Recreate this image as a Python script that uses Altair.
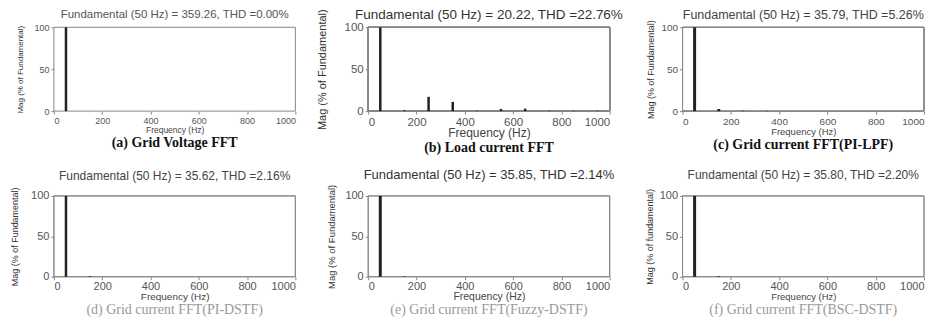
import altair as alt
import pandas as pd

# ---- data ----
freqs_a = [50]
mags_a = [100]
freqs_b = [50, 150, 250, 350, 450, 550, 650, 750, 850, 950]
mags_b = [100, 1.0, 17, 11, 0.5, 2.5, 3.0, 0.5, 0.4, 0.5]
freqs_c = [50, 150, 250, 350]
mags_c = [100, 2.5, 0.5, 0.3]
freqs_d = [50, 150]
mags_d = [100, 0.8]
freqs_e = [50, 150]
mags_e = [100, 0.6]
freqs_f = [50, 150]
mags_f = [100, 0.8]

titles = [
    "Fundamental  (50 Hz) = 359.26,  THD =0.00%",
    "Fundamental  (50 Hz) = 20.22, THD =22.76%",
    "Fundamental (50 Hz) = 35.79, THD =5.26%",
    "Fundamental  (50 Hz) = 35.62, THD =2.16%",
    "Fundamental (50 Hz) = 35.85, THD =2.14%",
    "Fundamental  (50 Hz) = 35.80, THD =2.20%",
]
captions = [
    "(a) Grid Voltage FFT",
    "(b) Load current FFT",
    "(c) Grid current FFT(PI-LPF)",
    "(d) Grid current FFT(PI-DSTF)",
    "(e) Grid current FFT(Fuzzy-DSTF)",
    "(f) Grid current FFT(BSC-DSTF)",
]
ylabels = [
    "Mag (% of Fundamental)",
    "Mag (% of Fundamental)",
    "Mag (% of Fundamental)",
    "Mag (% of Fundamental)",
    "Mag (% of Fundamental)",
    "Mag (% of fundamental)",
]
xlabel = "Frequency  (Hz)"
x_ticks = [0, 200, 400, 600, 800, 1000]
y_ticks = [0, 50, 100]

series = [
    (freqs_a, mags_a), (freqs_b, mags_b), (freqs_c, mags_c),
    (freqs_d, mags_d), (freqs_e, mags_e), (freqs_f, mags_f),
]

# ---- styling per panel ----
W = 242
H_TOP, H_BOT = 84, 81
styles = [
    dict(h=H_TOP, tfs=11.5, tcol="#555", tdy=-12, lfs=9, yfs=8, xtfs=8.5, ytx=-33, cap_bold=True, cap_col="#111", cap_fs=14, bw=2.5, cap_off=2, lp=2),
    dict(h=H_TOP, tfs=13.5, tcol="#333", tdy=-12, lfs=11.5, yfs=11, xtfs=12, ytx=-46, cap_bold=True, cap_col="#111", cap_fs=14, bw=2.5, cap_off=2, lp=2),
    dict(h=H_TOP, tfs=12.5, tcol="#444", tdy=-12, lfs=10, yfs=9, xtfs=9.5, ytx=-32, cap_bold=True, cap_col="#111", cap_fs=14, bw=3, cap_off=2, lp=2),
    dict(h=H_BOT, tfs=12, tcol="#444", tdy=-20, lfs=11, yfs=9, xtfs=10, ytx=-39, cap_bold=False, cap_col="#999", cap_fs=14, bw=2.5, cap_off=1, lp=1),
    dict(h=H_BOT, tfs=13, tcol="#333", tdy=-21, lfs=11, yfs=9.5, xtfs=10.5, ytx=-37, cap_bold=False, cap_col="#999", cap_fs=14, bw=3, cap_off=1, lp=1),
    dict(h=H_BOT, tfs=12, tcol="#444", tdy=-21, lfs=11, yfs=9, xtfs=9.5, ytx=-33, cap_bold=False, cap_col="#999", cap_fs=14, bw=3, cap_off=2, lp=1),
]


def panel(i):
    fr, mg = series[i]
    st = styles[i]
    df = pd.DataFrame({"f": fr, "m": mg})
    bars = alt.Chart(df).mark_rule(color="#222", strokeWidth=st["bw"]).encode(
        x=alt.X("f:Q", scale=alt.Scale(domain=[0, 1000], nice=False),
                axis=alt.Axis(values=x_ticks, format="d", title=xlabel, grid=False,
                              labelFontSize=st["lfs"], labelColor="#555",
                              titleFontSize=st["xtfs"], titleColor="#444",
                              titleFontWeight="normal", titlePadding=0,
                              tickSize=3, tickColor="#888", domain=False,
                              labelPadding=st["lp"], labelFont="Liberation Sans",
                              titleFont="Liberation Sans")),
        y=alt.Y("m:Q", scale=alt.Scale(domain=[0, 100], nice=False),
                axis=alt.Axis(values=y_ticks, format="d", title=ylabels[i], grid=False,
                              labelFontSize=st["lfs"], labelColor="#555",
                              titleFontSize=st["yfs"], titleColor="#333",
                              titleFontWeight="normal", titleX=st["ytx"],
                              titleY=st["h"] / 2, titleBaseline="middle",
                              titleAlign="center", tickSize=3, tickColor="#888",
                              domain=False, labelPadding=2,
                              labelFont="Liberation Sans",
                              titleFont="Liberation Sans")),
        y2=alt.datum(0),
    )
    frame = alt.Chart(df).mark_rect(
        fill=None, stroke="#888", strokeWidth=1
    ).encode(
        x=alt.value(0), x2=alt.value(W), y=alt.value(0), y2=alt.value(st["h"])
    )
    tdf = pd.DataFrame({"t": [titles[i]]})
    ttl = alt.Chart(tdf).mark_text(
        fontSize=st["tfs"], color=st["tcol"], font="Liberation Sans",
        align="center", baseline="middle",
    ).encode(text="t:N", x=alt.value(W / 2), y=alt.value(st["tdy"]))
    return alt.layer(frame, bars, ttl).properties(
        width=W, height=st["h"],
        title=alt.TitleParams(
            captions[i], orient="bottom", font="Liberation Serif",
            fontSize=st["cap_fs"], fontWeight="bold" if st["cap_bold"] else "normal",
            color=st["cap_col"], offset=st["cap_off"], anchor="middle",
        ),
    )


chart = alt.concat(
    *[panel(i) for i in range(6)], columns=3,
    spacing={"row": 85, "column": 73}, bounds="flush",
).configure(
    background="white",
    padding={"left": 2, "top": 0, "right": 2, "bottom": 2},
    view=alt.ViewConfig(stroke=None),
)

chart.save("out.html", embed_options={"renderer": "svg", "actions": False})
